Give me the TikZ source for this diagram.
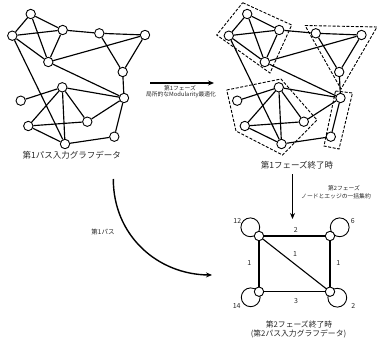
\documentclass[tikz,border=0pt]{standalone}
\usepackage{fontspec}
\setmainfont{Noto Sans CJK JP}
\usetikzlibrary{arrows.meta}

\tikzset{
  vtx/.style={circle, draw, fill=white, line width=0.9pt, minimum size=9.4pt, inner sep=0pt},
  edge/.style={line width=1.15pt},
  loopc/.style={draw, line width=0.9pt},
  community/.style={line width=0.9pt, dash pattern=on 3pt off 1.6pt},
  flow/.style={line width=1.4pt, -{Stealth[length=6pt,width=5pt]}},
  biglabel/.style={font=\fontsize{8.5}{9.5}\selectfont, text=black!85, inner sep=0pt},
  smalllabel/.style={font=\fontsize{5.8}{6.8}\selectfont, text=black!85, inner sep=0pt},
  numlabel/.style={font=\fontsize{7}{8}\selectfont, text=black!85, inner sep=0pt},
}

% the input graph: fourteen vertices and their edges
\newcommand{\inputgraph}{%
  \node[vtx] (A) at (30.7,14) {};
  \node[vtx] (B) at (12.3,35.7) {};
  \node[vtx] (C) at (62.7,30) {};
  \node[vtx] (D) at (99.3,33.3) {};
  \node[vtx] (E) at (145,35) {};
  \node[vtx] (F) at (48.3,62) {};
  \node[vtx] (G) at (122.7,72) {};
  \node[vtx] (H) at (62.3,87.3) {};
  \node[vtx] (I) at (20.7,100.7) {};
  \node[vtx] (J) at (124,98) {};
  \node[vtx] (K) at (87.3,121.7) {};
  \node[vtx] (L) at (28.3,126) {};
  \node[vtx] (M) at (114.3,136.7) {};
  \node[vtx] (N) at (65,144) {};
  \foreach \u/\v in {A/B,A/C,A/F,B/C,B/F,C/F,B/N,C/D,D/E,D/G,E/F,E/G,F/J,G/J,J/M,M/N,
                     H/I,H/J,H/L,H/K,H/N,L/K,L/N,K/J}
    \draw[edge] (\u) -- (\v);
}

\begin{document}
\begin{tikzpicture}[x=1pt,y=-1pt]
\useasboundingbox (0,0) rectangle (377,347);

% input graph of pass 1
\inputgraph
\node[biglabel] (lbl1) at (71.7,155) {第1パス入力グラフデータ};

% graph after phase 1, with its communities
\begin{scope}[xshift=216.5pt, name prefix=r-]
  \inputgraph
\end{scope}
\draw[community] (242.7,2.7) -- (291.7,25) -- (270,73) -- (216.7,35) -- cycle;
\draw[community] (305,25.5) -- (377,27) -- (341,89) -- cycle;
\draw[community] (226.7,90) -- (281,79) -- (317,120) -- (282.5,155) -- (236,131) -- cycle;
\draw[community] (335.5,91) -- (352.5,93) -- (339,149) -- (324,146) -- cycle;
\node[biglabel] (lbl2) at (297,165.5) {第1フェーズ終了時};

% phase 1 arrow
\coordinate (p1s) at (150,83);
\coordinate (p1e) at (214,83);
\draw[flow] (p1s) -- (p1e);
\node[smalllabel] (p1a) at (180,87.8) {第1フェーズ};
\node[smalllabel] (p1b) at (181,95) {局所的なModularity最適化};

% phase 2 arrow
\coordinate (p2s) at (292.5,174.5);
\coordinate (p2e) at (292.5,219);
\draw[flow] (p2s) -- (p2e);
\node[smalllabel] (p2a) at (344,188.3) {第2フェーズ};
\node[smalllabel] (p2b) at (336,196) {ノードとエッジの一括集約};

% pass 1 arrow
\coordinate (pss) at (113.3,179);
\coordinate (pse) at (212,275);
\draw[flow] (pss) .. controls (113.3,236) and (158,274.5) .. (pse);
\node[font=\fontsize{6.5}{7.5}\selectfont, text=black!85, inner sep=0pt] (pass1) at (103,231.7) {第1パス};

% aggregated graph: self loops first, vertices on top
\draw[loopc] (250.3,227.3) circle (9.4pt);
\draw[loopc] (339.7,227.3) circle (9.4pt);
\draw[loopc] (250.7,297.3) circle (9.4pt);
\draw[loopc] (337.3,297.7) circle (9.4pt);
\node[vtx] (tl) at (259,236) {};
\node[vtx] (tr) at (330,236) {};
\node[vtx] (bl) at (259,291.7) {};
\node[vtx] (br) at (330,291.7) {};
\draw[line width=1.3pt] (tl) -- (tr);
\draw[line width=1.3pt] (tl) -- (bl);
\draw[line width=1.3pt] (tr) -- (br);
\draw[line width=1.1pt] (tl) -- (br);
\draw[line width=0.9pt] (bl) -- (br);

\node[numlabel] (w12) at (237.3,220.5) {12};
\node[numlabel] (w6)  at (352.7,221.5) {6};
\node[numlabel] (w14) at (236.7,306) {14};
\node[numlabel] (w2)  at (353.3,306) {2};
\node[numlabel] (e2)  at (295.7,230) {2};
\node[numlabel] (e1l) at (249.3,263.3) {1};
\node[numlabel] (e1r) at (338.3,263.3) {1};
\node[numlabel] (e1d) at (295,254) {1};
\node[numlabel] (e3)  at (296,300.7) {3};

\node[font=\fontsize{7.8}{8.8}\selectfont, text=black!85, inner sep=0pt] (lbl3a) at (299,325) {第2フェーズ終了時};
\node[font=\fontsize{7.8}{8.8}\selectfont, text=black!85, inner sep=0pt] (lbl3b) at (298.5,333.8) {(第2パス入力グラフデータ)};
\end{tikzpicture}
\end{document}
